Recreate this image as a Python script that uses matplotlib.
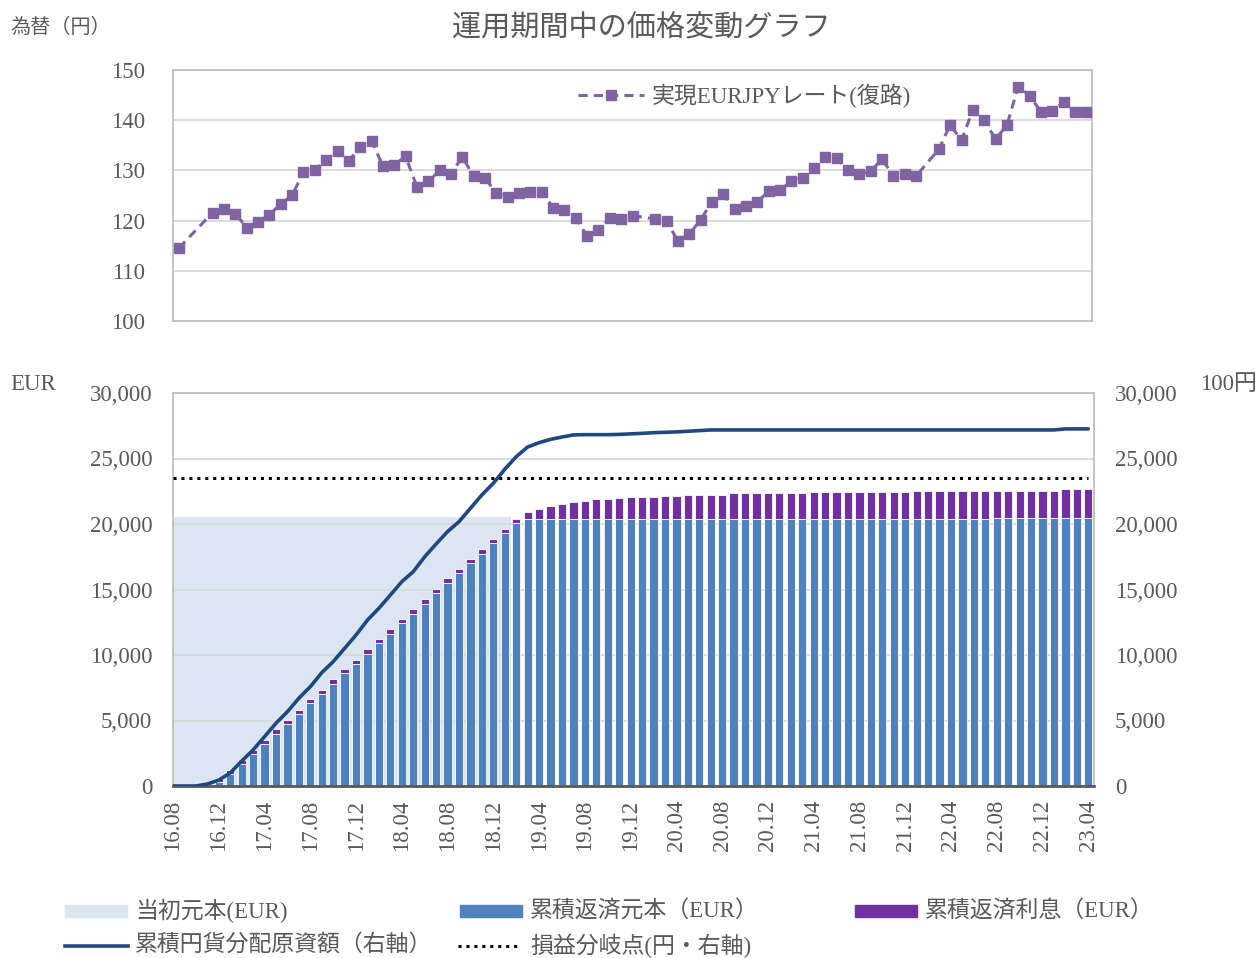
import matplotlib
matplotlib.use('Agg')
import matplotlib.pyplot as plt
import numpy as np
from matplotlib.patches import Rectangle
from matplotlib.lines import Line2D
from matplotlib.ticker import FuncFormatter

plt.rcParams['font.family'] = ['Liberation Serif', 'Noto Sans CJK JP']

# ---------------- data ----------------
tick_labels = ['16.08', '16.12', '17.04', '17.08', '17.12', '18.04', '18.08',
               '18.12', '19.04', '19.08', '19.12', '20.04', '20.08', '20.12',
               '21.04', '21.08', '21.12', '22.04', '22.08', '22.12', '23.04']

# realised EURJPY rate (None = no value that month)
rate = [114.5, None, None, 121.6, 122.4, 121.4, 118.6, 119.7, 121.2, 123.3,
        125.0, 129.7, 130.1, 132.1, 133.9, 131.9, 134.7, 135.9, 130.9, 131.1,
        132.8, 126.7, 127.8, 130.0, 129.3, 132.7, 128.8, 128.5, 125.4, 124.8,
        125.4, 125.7, 125.7, 122.6, 122.1, 120.5, 116.9, 118.1, 120.5, 120.3,
        121.0, None, 120.3, 120.0, 115.9, 117.3, 120.1, 123.8, 125.2, 122.4,
        122.9, 123.8, 125.8, 126.0, 127.9, 128.5, 130.4, 132.7, 132.4, 130.0,
        129.2, 129.8, 132.3, 128.8, 129.3, 128.9, None, 134.2, 139.1, 136.0,
        142.1, 140.0, 136.2, 139.0, 146.7, 144.9, 141.7, 141.9, 143.6, 141.6,
        141.6]

initial_principal = [20500, 20500, 20500, 20500, 20500, 20500, 20500, 20500, 20500, 20500,
                     20500, 20500, 20500, 20500, 20500, 20500, 20500, 20500, 20500, 20500,
                     20500, 20500, 20500, 20500, 20500, 20500, 20500, 20500, 20500, 20500,
                     0, 0, 0, 0, 0, 0, 0, 0, 0, 0,
                     0, 0, 0, 0, 0, 0, 0, 0, 0, 0,
                     0, 0, 0, 0, 0, 0, 0, 0, 0, 0,
                     0, 0, 0, 0, 0, 0, 0, 0, 0, 0,
                     0, 0, 0, 0, 0, 0, 0, 0, 0, 0,
                     0]

cum_principal = [0, 0, 0, 80, 330, 920, 1680, 2440, 3210, 3950,
                 4730, 5500, 6310, 7020, 7790, 8600, 9310, 10080, 10890, 11600,
                 12420, 13130, 13890, 14710, 15470, 16240, 17000, 17710, 18530, 19290,
                 20100, 20380, 20380, 20380, 20380, 20380, 20380, 20380, 20380, 20380,
                 20380, 20380, 20380, 20380, 20380, 20380, 20380, 20380, 20380, 20380,
                 20380, 20380, 20380, 20380, 20380, 20380, 20380, 20380, 20380, 20380,
                 20380, 20380, 20380, 20380, 20380, 20380, 20380, 20380, 20380, 20380,
                 20380, 20380, 20480, 20480, 20480, 20480, 20480, 20480, 20480, 20480,
                 20480]

cum_interest = [0, 0, 0, 150, 220, 280, 300, 300, 300, 380,
                300, 300, 310, 300, 360, 310, 300, 360, 310, 400,
                300, 360, 360, 300, 380, 300, 300, 400, 300, 360,
                300, 540, 800, 980, 1150, 1300, 1400, 1505, 1505, 1580,
                1660, 1660, 1660, 1760, 1760, 1860, 1860, 1860, 1860, 1960,
                1960, 1960, 1960, 1960, 1960, 1960, 2065, 2065, 2065, 2065,
                2065, 2065, 2065, 2065, 2065, 2165, 2165, 2165, 2165, 2165,
                2165, 2165, 2065, 2065, 2065, 2065, 2065, 2065, 2170, 2170,
                2170]

cum_yen = [0, 0, 0, 150, 450, 1000, 1900, 2750, 3770, 4790,
           5670, 6700, 7580, 8650, 9490, 10510, 11530, 12670, 13570, 14580,
           15600, 16360, 17500, 18480, 19420, 20180, 21200, 22220, 23110, 24180,
           25140, 25880, 26210, 26460, 26640, 26800, 26820, 26820, 26820, 26840,
           26880, 26920, 26970, 27000, 27030, 27080, 27130, 27180, 27180, 27180,
           27180, 27180, 27180, 27180, 27180, 27180, 27180, 27180, 27180, 27180,
           27180, 27180, 27180, 27180, 27180, 27180, 27180, 27180, 27180, 27180,
           27180, 27180, 27180, 27180, 27180, 27180, 27180, 27180, 27260, 27260,
           27260]

breakeven = 23500

# ---------------- styling ----------------
W, H = 1259, 958
GRAY_TXT = '#595959'
GRID = '#d9d9d9'
SPINE = '#bfbfbf'
C_RATE = '#8064a2'
C_INIT = '#dce6f2'
C_PRIN = '#4f81bd'
C_INT = '#7030a0'
C_YEN = '#1f497d'
FS = 16.5
SERIF_JP = ['Liberation Serif', 'Noto Sans CJK JP']

fig = plt.figure(figsize=(W / 100, H / 100), dpi=100)

n = len(rate)
x = np.arange(n)

# ---------------- top panel ----------------
ax1 = fig.add_axes([173 / W, 1 - 321 / H, 919 / W, 251 / H])
valid = [i for i, v in enumerate(rate) if v is not None]
ax1.plot([x[i] for i in valid], [rate[i] for i in valid], color=C_RATE,
         lw=2.2, ls=(0, (3.0, 2.0)), marker='s', ms=7, mec=C_RATE, mfc=C_RATE,
         label='実現EURJPYレート(復路)', zorder=3)
ax1.set_xlim(-0.5, n - 0.5)
ax1.set_ylim(100, 150)
ax1.set_yticks(np.arange(100, 151, 10))
ax1.set_xticks([])
ax1.grid(axis='y', color=GRID, lw=1.3, zorder=0)
ax1.set_axisbelow(True)
for s in ax1.spines.values():
    s.set_color(SPINE)
    s.set_linewidth(1.3)
ax1.tick_params(axis='y', length=0, labelsize=FS, labelcolor=GRAY_TXT, pad=20)
for t in ax1.get_yticklabels():
    t.set_fontfamily('Liberation Serif')
leg = ax1.legend(loc='center left', bbox_to_anchor=(0.4407, 0.896), frameon=False,
                 borderaxespad=0, borderpad=0, handlelength=2.9, handletextpad=0.3,
                 numpoints=1, prop={'family': SERIF_JP, 'size': FS})
for t in leg.get_texts():
    t.set_color(GRAY_TXT)

# ---------------- bottom panel ----------------
ax2 = fig.add_axes([173 / W, 1 - 786 / H, 921 / W, 393 / H])
ax2.bar(x, initial_principal, width=1.0, color=C_INIT, lw=0, zorder=0)
ax2.bar(x, cum_principal, width=0.72, color=C_PRIN, edgecolor='white', lw=0.6, zorder=2)
ax2.bar(x, cum_interest, width=0.72, bottom=cum_principal, color=C_INT,
        edgecolor='white', lw=0.6, zorder=2)
ax2.set_xlim(0, n - 0.5)
ax2.set_ylim(0, 30000)
ax2.set_yticks(np.arange(0, 30001, 5000))
ax2.yaxis.set_major_formatter(FuncFormatter(lambda v, p: f'{int(v):,}'))
ax2.grid(axis='y', color=GRID, lw=1.3, zorder=1)
ax2.set_xticks(x[::4])
ax2.set_xticklabels(tick_labels, rotation=90, fontfamily='Liberation Serif')
ax2.tick_params(axis='both', length=0, labelsize=FS, labelcolor=GRAY_TXT)
ax2.tick_params(axis='y', pad=15)
ax2.tick_params(axis='x', pad=10)
for t in ax2.get_yticklabels():
    t.set_fontfamily('Liberation Serif')
for k, s in ax2.spines.items():
    s.set_color(SPINE)
    s.set_linewidth(1.3)
ax2.spines['bottom'].set_color('#595959')
ax2.spines['bottom'].set_linewidth(2.0)
ax2.spines['bottom'].set_zorder(5)

ax3 = ax2.twinx()
ax3.plot(x, cum_yen, color=C_YEN, lw=2.6, zorder=4, solid_capstyle='round')
ax3.hlines(breakeven, x[0], x[-1], colors='black', linestyles=(0, (1, 1.6)), lw=2.2, zorder=4)
ax3.set_ylim(0, 30000)
ax3.set_yticks(np.arange(0, 30001, 5000))
ax3.yaxis.set_major_formatter(FuncFormatter(lambda v, p: f'{int(v):,}'))
ax3.tick_params(axis='y', length=0, labelsize=FS, labelcolor=GRAY_TXT, pad=15)
for t in ax3.get_yticklabels():
    t.set_fontfamily('Liberation Serif')
for s in ax3.spines.values():
    s.set_visible(False)

# ---------------- titles / axis unit labels ----------------
fig.text(641 / W, 1 - 29 / H, '運用期間中の価格変動グラフ', ha='center', va='center',
         fontsize=21, color=GRAY_TXT, family=SERIF_JP)
fig.text(10 / W, 1 - 28 / H, '為替（円）', ha='left', va='center',
         fontsize=14.5, color=GRAY_TXT, family=SERIF_JP)
fig.text(10 / W, 1 - 384 / H, 'EUR', ha='left', va='center',
         fontsize=FS, color=GRAY_TXT, family=SERIF_JP)
fig.text(1200 / W, 1 - 384 / H, '100円', ha='left', va='center',
         fontsize=FS, color=GRAY_TXT, family=SERIF_JP)

# ---------------- bottom legend (manual) ----------------
def legend_patch(x0, x1, yc, color, label, tx):
    fig.patches.append(Rectangle((x0 / W, 1 - (yc + 6) / H), (x1 - x0) / W, 12 / H,
                                 transform=fig.transFigure, color=color, figure=fig))
    fig.text(tx / W, 1 - yc / H, label, ha='left', va='center', fontsize=FS,
             color=GRAY_TXT, family=SERIF_JP)

def legend_line(x0, x1, yc, color, ls, lw, label, tx):
    fig.lines.append(Line2D([x0 / W, x1 / W], [1 - yc / H, 1 - yc / H],
                            transform=fig.transFigure, color=color, ls=ls, lw=lw,
                            figure=fig))
    fig.text(tx / W, 1 - yc / H, label, ha='left', va='center', fontsize=FS,
             color=GRAY_TXT, family=SERIF_JP)

legend_patch(65, 127, 911, C_INIT, '当初元本(EUR)', 135)
legend_patch(460, 522, 911, C_PRIN, '累積返済元本（EUR）', 530)
legend_patch(855, 917, 911, C_INT, '累積返済利息（EUR）', 925)
legend_line(65, 128, 946, C_YEN, '-', 2.6, '累積円貨分配原資額（右軸）', 135)
legend_line(458, 520, 946, 'black', (0, (1, 1.6)), 2.2, '損益分岐点(円・右軸)', 530)

fig.savefig('out.png', dpi=100)
